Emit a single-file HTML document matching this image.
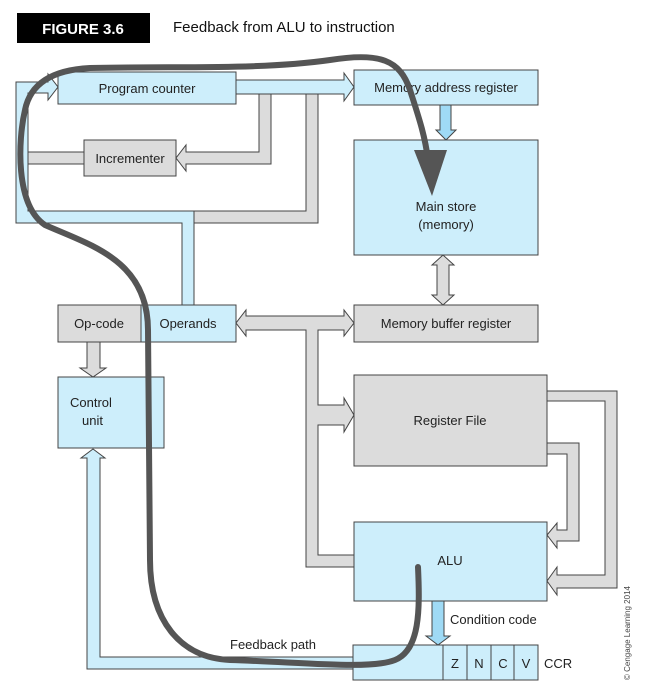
<!DOCTYPE html>
<html><head><meta charset="utf-8"><style>
html,body{margin:0;padding:0;background:#fff}
svg{display:block}
text{font-family:"Liberation Sans",sans-serif;fill:#222}
</style></head><body>
<svg width="645" height="686" viewBox="0 0 645 686" xmlns="http://www.w3.org/2000/svg">
<rect x="17" y="13" width="133" height="30" fill="#000"/>
<text x="83" y="34" text-anchor="middle" font-size="15" font-weight="bold" style="fill:#fff">FIGURE 3.6</text>
<text x="173" y="32" font-size="15" style="fill:#111">Feedback from ALU to instruction</text>

<g stroke="#444" stroke-width="1">
<!-- left blue frame loop -->
<path d="M16 82 H48 V74 L58 87 L48 100 V93 H28 V211 H194 V305 H182 V223 H16 Z" fill="#cdeefb"/>
<!-- gray from PC to incrementer -->
<path d="M259 93 H271 V164 H186 V171 L176 158 L186 145 V152 H259 Z" fill="#dcdcdc"/>
<!-- gray from PC to operands region -->
<path d="M306 93 H318 V223 H194 V211 H306 Z" fill="#dcdcdc"/>
<!-- incrementer to left -->
<rect x="28" y="152" width="56" height="12" fill="#dcdcdc"/>
<!-- PC -> MAR -->
<path d="M236 80 H344 V73 L354 87 L344 101 V94 H236 Z" fill="#cdeefb"/>
<!-- MAR -> main store -->
<path d="M440 105 H451 V130 H456 L446 140 L436 130 H440 Z" fill="#9fdaf5"/>
<!-- main store <-> MBR -->
<path d="M437 265 H432 L443 255 L454 265 H449 V295 H454 L443 305 L432 295 H437 Z" fill="#dcdcdc"/>
<!-- operands <-> MBR, and down to RF / ALU -->
<path d="M246 316 V310 L236 323 L246 336 V330 H306 V567 H354 V555 H318 V425 H344 V432 L354 415 L344 398 V405 H318 V330 H344 V336 L354 323 L344 310 V316 Z" fill="#dcdcdc"/>
<!-- opcode -> control -->
<path d="M87 342 H100 V368 H106 L93 377 L80 368 H87 Z" fill="#dcdcdc"/>
<!-- control feedback -->
<path d="M87 669 V458 H81 L93 449 L105 458 H100 V657 H353 V669 Z" fill="#cdeefb"/>
<!-- right loops -->
<path d="M547 391 H617 V588 H557 V595 L547 581 L557 567 V575 H605 V401 H547 Z" fill="#dcdcdc"/>
<path d="M547 443 H579 V541 H557 V548 L547 535 L557 523 V530 H567 V454 H547 Z" fill="#dcdcdc"/>
<!-- condition code -->
<path d="M432 601 H444 V636 H450 L438 645 L426 636 H432 Z" fill="#9fdaf5"/>

<!-- boxes -->
<rect x="58" y="72" width="178" height="32" fill="#cdeefb"/>
<rect x="354" y="70" width="184" height="35" fill="#cdeefb"/>
<rect x="84" y="140" width="92" height="36" fill="#dcdcdc"/>
<rect x="354" y="140" width="184" height="115" fill="#cdeefb"/>
<rect x="58" y="305" width="83" height="37" fill="#dcdcdc"/>
<rect x="141" y="305" width="95" height="37" fill="#cdeefb"/>
<rect x="354" y="305" width="184" height="37" fill="#dcdcdc"/>
<rect x="58" y="377" width="106" height="71" fill="#cdeefb"/>
<rect x="354" y="375" width="193" height="91" fill="#dcdcdc"/>
<rect x="354" y="522" width="193" height="79" fill="#cdeefb"/>
<rect x="353" y="645" width="185" height="35" fill="#cdeefb"/>
<path d="M443 645 V680 M467 645 V680 M491 645 V680 M514 645 V680" fill="none"/>
</g>

<g font-size="13">
<text x="147" y="93" text-anchor="middle">Program counter</text>
<text x="446" y="92" text-anchor="middle">Memory address register</text>
<text x="130" y="163" text-anchor="middle">Incrementer</text>
<text x="446" y="211" text-anchor="middle">Main store</text>
<text x="446" y="229" text-anchor="middle">(memory)</text>
<text x="99" y="328" text-anchor="middle">Op-code</text>
<text x="188" y="328" text-anchor="middle">Operands</text>
<text x="446" y="328" text-anchor="middle">Memory buffer register</text>
<text x="70" y="407">Control</text>
<text x="82" y="425">unit</text>
<text x="450" y="425" text-anchor="middle">Register File</text>
<text x="450" y="565" text-anchor="middle">ALU</text>
<text x="450" y="624">Condition code</text>
<text x="230" y="649">Feedback path</text>
<text x="455" y="668" text-anchor="middle">Z</text>
<text x="479" y="668" text-anchor="middle">N</text>
<text x="503" y="668" text-anchor="middle">C</text>
<text x="526" y="668" text-anchor="middle">V</text>
<text x="544" y="668">CCR</text>
</g>
<text transform="translate(630,680) rotate(-90)" font-size="8" style="fill:#444">© Cengage Learning 2014</text>

<!-- feedback curve -->
<path d="M418 567 C420 610 420 650 395 660 C370 670 300 662 230 660 C180 658 150 620 150 560 L148 330 C148 260 90 245 45 225 C15 205 18 140 25 110 C30 85 50 70 90 68 C180 66 260 70 330 60 C380 52 400 60 410 90 C418 115 425 135 428 160" fill="none" stroke="#555" stroke-width="6" stroke-linecap="round"/>
<path d="M414 150 L447 150 L432 196 Z" fill="#555"/>
</svg>
</body></html>
